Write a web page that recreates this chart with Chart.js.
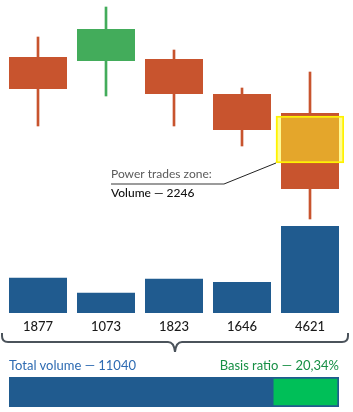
<!DOCTYPE html>
<html><head><meta charset="utf-8">
<script src="https://cdn.jsdelivr.net/npm/chart.js@4/dist/chart.umd.min.js"></script>
<style>
html,body{margin:0;padding:0;background:#fff;width:353px;height:412px;overflow:hidden;font-family:Lato,"Open Sans",sans-serif;}
#c1{position:absolute;left:0;top:0;}
#c2{position:absolute;left:0;top:360px;}
.t{position:absolute;top:356px;font-size:13px;line-height:18px;white-space:nowrap;}
#tl{left:9px;color:#2E6BB2;}
#tr{right:14px;color:#178F45;}
</style></head>
<body>
<canvas id="c1" width="353" height="360"></canvas>
<canvas id="c2" width="353" height="52"></canvas>
<div class="t" id="tl"></div>
<div class="t" id="tr"></div>
<script>
// ---- data ----
const categories = ['P1','P2','P3','P4','P5'];
const opens  = [18.3, 17.9, 18.1, 14.6, 12.7];
const closes = [15.1, 21.1, 14.6, 11.0, 5.1];
const highs  = [20.3, 23.3, 19.0, 15.2, 16.8];
const lows   = [11.4, 14.4, 11.4, 9.4, 2.1];
const volumes = [1877, 1073, 1823, 1646, 4621];
const zoneIndex = 4;
const zoneRange = [7.7, 12.4];
const zoneVolume = 2246;

const RED = '#C8542E', GREEN = '#43AC5B', BLUE = '#205B8F';
const candleColors = opens.map((o,i)=> closes[i] >= o ? GREEN : RED);
const total = volumes.reduce((a,b)=>a+b,0);
const ratio = zoneVolume/total*100;

document.getElementById('tl').textContent = 'Total volume \u2014 ' + total;
document.getElementById('tr').textContent = 'Basis ratio \u2014 ' + ratio.toFixed(2).replace('.',',') + '%';

const overlay = {
  id:'overlay',
  afterDatasetsDraw(chart){
    const ctx = chart.ctx;
    const xs = chart.scales.x;
    // volume labels
    ctx.save();
    ctx.font = '500 13px Lato, sans-serif';
    ctx.fillStyle = '#1a1a1a';
    ctx.textAlign = 'center';
    ctx.textBaseline = 'middle';
    volumes.forEach((v,i)=>{ ctx.fillText(String(v), xs.getPixelForValue(i), 327); });
    // callout
    const el = chart.getDatasetMeta(0).data[zoneIndex];
    const left = el.x - el.width/2;
    const bottom = Math.max(el.y, el.base);
    ctx.strokeStyle = '#222'; ctx.lineWidth = 1;
    ctx.beginPath(); ctx.moveTo(left, bottom); ctx.lineTo(224, 184); ctx.stroke();
    ctx.strokeStyle = '#7a7a7a'; ctx.lineWidth = 1.5;
    ctx.beginPath(); ctx.moveTo(111, 184); ctx.lineTo(224, 184); ctx.stroke();
    ctx.textAlign = 'left'; ctx.textBaseline = 'alphabetic';
    ctx.fillStyle = '#5a5a5a'; ctx.font = '12px Lato, sans-serif';
    ctx.fillText('Power trades zone:', 111, 178);
    ctx.fillStyle = '#111'; ctx.font = '500 12px Lato, sans-serif';
    ctx.fillText('Volume \u2014 ' + zoneVolume, 111, 197);
    // bracket
    ctx.strokeStyle = '#4B535B'; ctx.lineWidth = 2;
    ctx.beginPath();
    ctx.moveTo(2, 333);
    ctx.lineTo(2, 336);
    ctx.quadraticCurveTo(2, 342, 8, 342);
    ctx.lineTo(168, 342);
    ctx.quadraticCurveTo(174, 342, 175, 352);
    ctx.quadraticCurveTo(176, 342, 182, 342);
    ctx.lineTo(342, 342);
    ctx.quadraticCurveTo(348, 342, 348, 336);
    ctx.lineTo(348, 333);
    ctx.stroke();
    ctx.restore();
  }
};

new Chart(document.getElementById('c1'), {
  type:'bar',
  data:{
    labels: categories,
    datasets:[
      { label:'zone', order:0, yAxisID:'y',
        data: categories.map((c,i)=> i===zoneIndex ? zoneRange : null),
        backgroundColor:'rgba(255,248,40,0.5)', borderColor:'#FFF200', borderWidth:1.5,
        borderSkipped:false, barPercentage:1, categoryPercentage:1, grouped:false },
      { label:'body', order:1, yAxisID:'y',
        data: opens.map((o,i)=>[o, closes[i]]),
        backgroundColor: candleColors, borderWidth:0,
        barPercentage:0.853, categoryPercentage:1, grouped:false },
      { label:'wick', order:2, yAxisID:'y',
        data: lows.map((l,i)=>[l, highs[i]]),
        backgroundColor: candleColors, borderWidth:0,
        barThickness:2, grouped:false },
      { label:'volume', order:3, yAxisID:'yv',
        data: volumes, backgroundColor: BLUE, borderWidth:0,
        barPercentage:0.853, categoryPercentage:1, grouped:false }
    ]
  },
  options:{
    responsive:false, animation:false, devicePixelRatio:1,
    layout:{padding:{left:4,right:9,top:0,bottom:47}},
    plugins:{legend:{display:false},tooltip:{enabled:false}},
    scales:{
      x:{display:false, offset:true},
      y:{display:false, min:-7.3, max:24},
      yv:{display:false, min:0, max:16625}
    }
  },
  plugins:[overlay]
});

new Chart(document.getElementById('c2'), {
  type:'bar',
  data:{
    labels:['total'],
    datasets:[
      { order:0, data:[[total - zoneVolume, total]], backgroundColor:'#00BF58',
        borderColor: BLUE, borderWidth:2, borderSkipped:false,
        barPercentage:1, categoryPercentage:1, grouped:false },
      { order:1, data:[[0, total]], backgroundColor: BLUE, borderWidth:0,
        barPercentage:1, categoryPercentage:1, grouped:false }
    ]
  },
  options:{
    indexAxis:'y', responsive:false, animation:false, devicePixelRatio:1,
    layout:{padding:{left:9,right:14,top:17,bottom:5}},
    plugins:{legend:{display:false},tooltip:{enabled:false}},
    scales:{
      x:{display:false, min:0, max:total},
      y:{display:false}
    }
  }
});
</script>
</body></html>
